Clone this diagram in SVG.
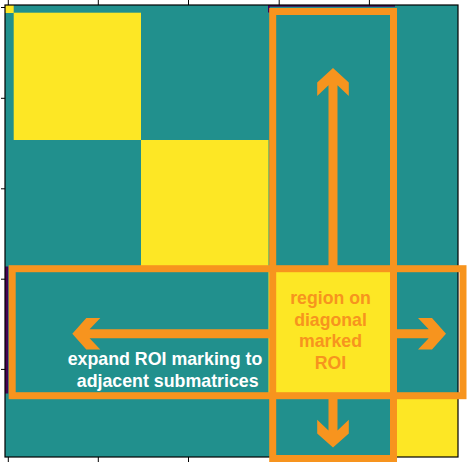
<svg xmlns="http://www.w3.org/2000/svg" width="467" height="470" viewBox="0 0 467 470">
<style>
.teal{fill:#21908d}
.yel{fill:#fde725}
.ol{fill:none;stroke:#f7941e;stroke-width:7}
.arr{fill:#f7941e}
.tick{stroke:#000;stroke-width:1}
.lbl{font-family:"Liberation Sans",Arial,sans-serif;font-weight:bold;text-anchor:middle}
</style>
<rect width="467" height="470" fill="#fff"/>
<g id="matrix">
<rect class="teal" x="5" y="5" width="453" height="452"/>
<rect class="yel" x="5" y="5" width="8.7" height="8"/>
<rect class="yel" x="13.7" y="12.7" width="127.3" height="127.3"/>
<rect class="yel" x="141" y="140" width="127.5" height="128"/>
<rect class="yel" x="268.5" y="268" width="127.5" height="128"/>
<rect class="yel" x="396" y="396" width="62" height="61"/>
<rect fill="#440154" x="5" y="266.5" width="3.3" height="127"/>
<rect fill="#440154" x="268" y="5" width="127" height="1.7"/>
<rect fill="#440154" x="268" y="5" width="1.7" height="7.5"/>
</g>
<g id="axes">
<rect x="5" y="5" width="453" height="452" fill="none" stroke="#000" stroke-width="1.2"/>
<path class="tick" d="M8.3 5V0M98.3 5V0M188.5 5V0M279.2 5V0M369.4 5V0M8.3 457V462M98.3 457V462M188.5 457V462M279.2 457V462M369.4 457V462M5 7.5H1M5 98.3H1M5 188.8H1M5 279.2H1M5 369.4H1"/>
</g>
<g id="roi-row">
<rect class="ol" x="12.2" y="268.7" width="450.8" height="127"/>
</g>
<g id="roi-col">
<rect class="ol" x="272.7" y="11.5" width="120.8" height="447"/>
</g>
<g id="connectors">
<polygon class="arr" points="333,68 348.8,82.5 348.8,96 337.5,85.2 337.5,268 328.5,268 328.5,85.2 317.2,96 317.2,82.5"/>
<polygon class="arr" points="333,447.5 348.8,433.5 348.8,419.7 337.5,430.5 337.5,398 328.5,398 328.5,430.5 317.2,419.7 317.2,433.5"/>
<polygon class="arr" points="446,333.8 432,318 418,318 428.7,329.3 397,329.3 397,338.3 428.7,338.3 418,349.5 432,349.5"/>
<polygon class="arr" points="72.3,333.8 86.3,318 100.3,318 89.6,329.3 270,329.3 270,338.3 89.6,338.3 100.3,349.5 86.3,349.5"/>
</g>
<g id="roi-label">
<text class="lbl" fill="#f7941e" font-size="17.7" x="330.5"><tspan x="330.5" y="304">region on</tspan><tspan x="330.5" y="325.5">diagonal</tspan><tspan x="330.5" y="347">marked</tspan><tspan x="330.5" y="368.5">ROI</tspan></text>
</g>
<g id="expand-label">
<text class="lbl" fill="#fff" font-size="17.8"><tspan x="165" y="364.5">expand ROI marking to</tspan><tspan x="167.7" y="386.5">adjacent submatrices</tspan></text>
</g>
</svg>
